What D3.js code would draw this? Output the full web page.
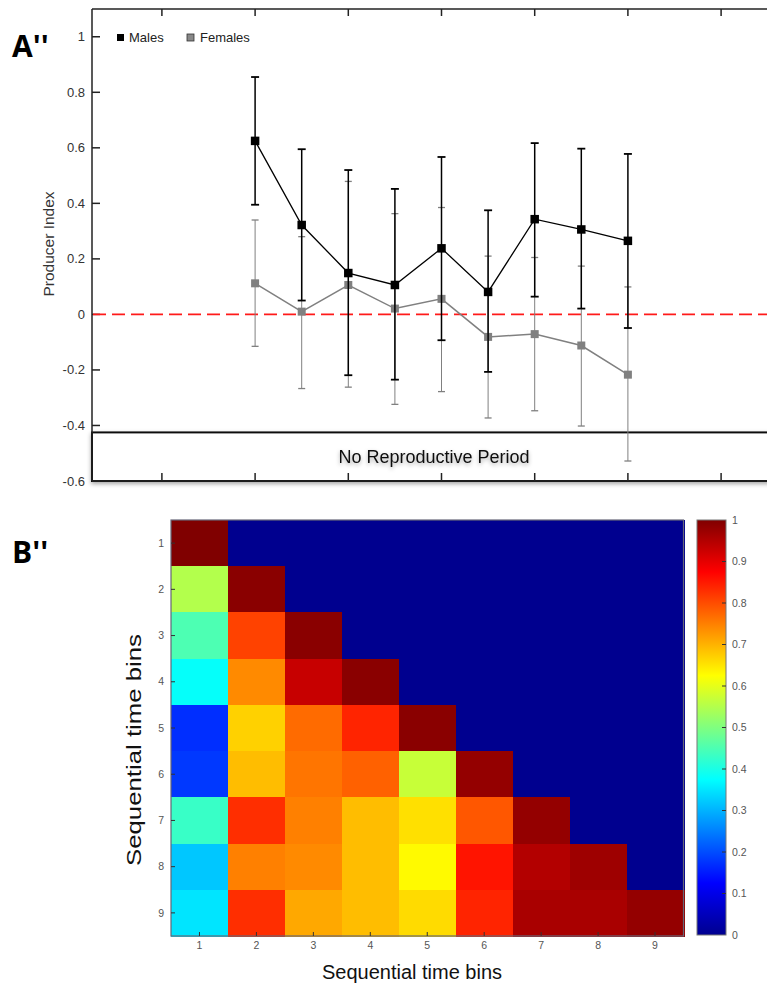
<!DOCTYPE html>
<html>
<head>
<meta charset="utf-8">
<script src="https://cdn.jsdelivr.net/npm/d3@7"></script>
<style>
  html, body { margin: 0; padding: 0; background: #fff; }
  svg { display: block; font-family: "Liberation Sans", Arial, sans-serif; }
</style>
</head>
<body>
<svg id="chart" width="767" height="987"></svg>
<script>
// ---- data ----
const bins = [1, 2, 3, 4, 5, 6, 7, 8, 9];

const malesMean = [0.625, 0.322, 0.149, 0.106, 0.238, 0.081, 0.343, 0.306, 0.265];
const malesHigh = [0.855, 0.595, 0.52, 0.452, 0.567, 0.375, 0.617, 0.597, 0.578];
const malesLow = [0.395, 0.05, -0.219, -0.235, -0.093, -0.207, 0.064, 0.021, -0.049];

const femalesMean = [0.112, 0.01, 0.106, 0.021, 0.056, -0.081, -0.071, -0.112, -0.217];
const femalesHigh = [0.34, 0.28, 0.479, 0.363, 0.385, 0.21, 0.205, 0.174, 0.099];
const femalesLow = [-0.115, -0.267, -0.262, -0.324, -0.278, -0.373, -0.347, -0.402, -0.528];

const yTicksA = [1, 0.8, 0.6, 0.4, 0.2, 0, -0.2, -0.4, -0.6];
const xTicksA = [-1, 1, 3, 5, 7, 9, 11];

// correlation between sequential time bins (row = bin, col = bin), 0 above diagonal
const corr = [
  [1.00, 0, 0, 0, 0, 0, 0, 0, 0],
  [0.55, 0.99, 0, 0, 0, 0, 0, 0, 0],
  [0.45, 0.81, 0.99, 0, 0, 0, 0, 0, 0],
  [0.38, 0.74, 0.93, 0.99, 0, 0, 0, 0, 0],
  [0.17, 0.67, 0.77, 0.84, 0.99, 0, 0, 0, 0],
  [0.18, 0.69, 0.76, 0.78, 0.57, 0.98, 0, 0, 0],
  [0.43, 0.83, 0.75, 0.69, 0.655, 0.79, 0.98, 0, 0],
  [0.32, 0.75, 0.74, 0.69, 0.63, 0.855, 0.95, 0.97, 0],
  [0.35, 0.83, 0.71, 0.69, 0.66, 0.84, 0.96, 0.96, 0.98]
];
const cbTicks = [0, 0.1, 0.2, 0.3, 0.4, 0.5, 0.6, 0.7, 0.8, 0.9, 1];

// jet colour map stops
const jetStops = [0, 0.125, 0.375, 0.625, 0.875, 1];
const jetColors = ["#00008f", "#0000ff", "#00ffff", "#ffff00", "#ff0000", "#800000"];

const svg = d3.select("#chart");

const defs = svg.append("defs");
const shadow = defs.append("filter").attr("id", "shadow")
  .attr("x", "-10%").attr("y", "-30%").attr("width", "120%").attr("height", "180%");
shadow.append("feDropShadow").attr("dx", 0).attr("dy", 2)
  .attr("stdDeviation", 2).attr("flood-color", "#000").attr("flood-opacity", 0.35);

// ================= panel A'' =================
const x = d3.scaleLinear().domain([-2.5, 12.5]).range([92, 791]);
const y = d3.scaleLinear().domain([-0.6, 1.1]).range([481, 9]);

svg.append("text").attr("x", 12).attr("y", 57)
  .attr("font-size", 30).attr("font-weight", "bold")
  .attr("font-family", "'Open Sans', 'Liberation Sans', sans-serif").text("A''");

// no reproductive period box
const boxTop = y(-0.425);
svg.append("rect")
  .attr("x", x(-2.5)).attr("y", boxTop)
  .attr("width", 800 - x(-2.5)).attr("height", y(-0.6) - boxTop)
  .attr("fill", "#fff").attr("stroke", "#111").attr("stroke-width", 2)
  .attr("filter", "url(#shadow)");
svg.append("text")
  .attr("x", 434).attr("y", 463).attr("text-anchor", "middle")
  .attr("font-size", 18).attr("fill", "#111")
  .attr("filter", "url(#shadow)")
  .text("No Reproductive Period");

// frame: left, top, bottom with inward ticks
const frame = svg.append("g").attr("stroke", "#222").attr("stroke-width", 1.5);
frame.append("line").attr("x1", 92).attr("x2", 800).attr("y1", 9).attr("y2", 9);
frame.append("line").attr("x1", 92).attr("x2", 800).attr("y1", 481).attr("y2", 481);
frame.append("line").attr("x1", 92).attr("x2", 92).attr("y1", 9).attr("y2", 481);

frame.selectAll(".tt").data(xTicksA).join("line")
  .attr("x1", (d) => x(d)).attr("x2", (d) => x(d))
  .attr("y1", 9).attr("y2", 16);
frame.selectAll(".bt").data(xTicksA).join("line")
  .attr("x1", (d) => x(d)).attr("x2", (d) => x(d))
  .attr("y1", 481).attr("y2", 473);
frame.selectAll(".lt").data(yTicksA).join("line")
  .attr("x1", 92).attr("x2", 100)
  .attr("y1", (d) => y(d)).attr("y2", (d) => y(d));

svg.append("g").selectAll("text").data(yTicksA).join("text")
  .attr("x", 85).attr("y", (d) => y(d)).attr("dy", "0.35em")
  .attr("text-anchor", "end").attr("font-size", 13).attr("fill", "#333")
  .text((d) => String(d));

svg.append("text")
  .attr("transform", `translate(54,${244}) rotate(-90)`)
  .attr("text-anchor", "middle").attr("font-size", 15.5).attr("fill", "#333")
  .text("Producer Index");

// zero line
svg.append("line")
  .attr("x1", 93).attr("x2", 767).attr("y1", y(0)).attr("y2", y(0))
  .attr("stroke", "#ff1a1a").attr("stroke-width", 1.6).attr("stroke-dasharray", "13,6");

function drawSeries(mean, low, high, color, lineW, barW, cap, size) {
  const g = svg.append("g");
  const rows = bins.map((b, i) => ({ b, m: mean[i], lo: low[i], hi: high[i] }));
  g.selectAll(".eb").data(rows).join("line")
    .attr("x1", (d) => x(d.b)).attr("x2", (d) => x(d.b))
    .attr("y1", (d) => y(d.lo)).attr("y2", (d) => y(d.hi))
    .attr("stroke", color).attr("stroke-width", barW);
  ["lo", "hi"].forEach((k) => {
    g.selectAll(".cap" + k).data(rows).join("line")
      .attr("x1", (d) => x(d.b) - cap).attr("x2", (d) => x(d.b) + cap)
      .attr("y1", (d) => y(d[k])).attr("y2", (d) => y(d[k]))
      .attr("stroke", color).attr("stroke-width", barW + 0.3);
  });
  g.append("path").datum(rows)
    .attr("fill", "none").attr("stroke", color).attr("stroke-width", lineW)
    .attr("d", d3.line().x((d) => x(d.b)).y((d) => y(d.m)));
  g.selectAll("rect").data(rows).join("rect")
    .attr("x", (d) => x(d.b) - size / 2).attr("y", (d) => y(d.m) - size / 2)
    .attr("width", size).attr("height", size).attr("fill", color);
}

drawSeries(femalesMean, femalesLow, femalesHigh, "#808080", 1.5, 1, 3.5, 8);
drawSeries(malesMean, malesLow, malesHigh, "#000", 1.3, 1.5, 4, 8.5);

// legend
const legend = svg.append("g").attr("font-size", 13).attr("fill", "#222");
legend.append("rect").attr("x", 117).attr("y", 34).attr("width", 7).attr("height", 7).attr("fill", "#000");
legend.append("text").attr("x", 129).attr("y", 42).text("Males");
legend.append("rect").attr("x", 187).attr("y", 34).attr("width", 7).attr("height", 7)
  .attr("fill", "#888").attr("stroke", "#333").attr("stroke-width", 0.8);
legend.append("text").attr("x", 200).attr("y", 42).text("Females");

// ================= panel B'' =================
svg.append("text").attr("x", 12).attr("y", 563)
  .attr("font-size", 30).attr("font-weight", "bold")
  .attr("font-family", "'Open Sans', 'Liberation Sans', sans-serif").text("B''");

const hx = d3.scaleBand().domain(bins).range([171, 683.5]);
const hy = d3.scaleBand().domain(bins).range([520, 936]);
const jet = d3.scaleLinear().domain(jetStops).range(jetColors).clamp(true);

const cells = [];
corr.forEach((row, r) => row.forEach((v, c) => cells.push({ r: bins[r], c: bins[c], v })));

svg.append("g").attr("shape-rendering", "crispEdges")
  .selectAll("rect").data(cells).join("rect")
  .attr("x", (d) => hx(d.c)).attr("y", (d) => hy(d.r))
  .attr("width", hx.bandwidth() + 1).attr("height", hy.bandwidth() + 1)
  .attr("fill", (d) => jet(d.v));

svg.append("rect").attr("x", 171).attr("y", 520).attr("width", 512.5).attr("height", 416)
  .attr("fill", "none").attr("stroke", "#667").attr("stroke-width", 1.2);

const hticks = svg.append("g").attr("stroke", "#333").attr("stroke-width", 1);
hticks.selectAll(".yl").data(bins).join("line")
  .attr("x1", 171).attr("x2", 175)
  .attr("y1", (d) => hy(d) + hy.bandwidth() / 2).attr("y2", (d) => hy(d) + hy.bandwidth() / 2);
hticks.selectAll(".xl").data(bins).join("line")
  .attr("y1", 936).attr("y2", 932)
  .attr("x1", (d) => hx(d) + hx.bandwidth() / 2).attr("x2", (d) => hx(d) + hx.bandwidth() / 2);

svg.append("g").selectAll("text").data(bins).join("text")
  .attr("x", 164).attr("y", (d) => hy(d) + hy.bandwidth() / 2).attr("dy", "0.35em")
  .attr("text-anchor", "end").attr("font-size", 10.5).attr("fill", "#555")
  .text((d) => d);
svg.append("g").selectAll("text").data(bins).join("text")
  .attr("x", (d) => hx(d) + hx.bandwidth() / 2).attr("y", 949)
  .attr("text-anchor", "middle").attr("font-size", 10.5).attr("fill", "#555")
  .text((d) => d);

svg.append("text").attr("x", 412).attr("y", 979).attr("text-anchor", "middle")
  .attr("font-size", 20).attr("fill", "#111").text("Sequential time bins");
svg.append("text")
  .attr("transform", "translate(141,750) rotate(-90)")
  .attr("text-anchor", "middle").attr("font-size", 21).attr("fill", "#111")
  .attr("textLength", 232).attr("lengthAdjust", "spacingAndGlyphs")
  .text("Sequential time bins");

// colour bar
const cb = d3.scaleLinear().domain([0, 1]).range([935, 520]);
const grad = defs.append("linearGradient").attr("id", "jetgrad")
  .attr("x1", 0).attr("y1", 1).attr("x2", 0).attr("y2", 0);
grad.selectAll("stop").data(jetStops).join("stop")
  .attr("offset", (d) => d).attr("stop-color", (d) => jet(d));
svg.append("rect").attr("x", 697).attr("y", 520).attr("width", 29).attr("height", 415)
  .attr("fill", "url(#jetgrad)").attr("stroke", "#777").attr("stroke-width", 1);
svg.append("g").selectAll("line").data(cbTicks.slice(1, -1)).join("line")
  .attr("x1", 722).attr("x2", 726)
  .attr("y1", (d) => cb(d)).attr("y2", (d) => cb(d))
  .attr("stroke", "#333").attr("stroke-width", 1);
svg.append("g").selectAll("text").data(cbTicks).join("text")
  .attr("x", 732).attr("y", (d) => cb(d)).attr("dy", "0.35em")
  .attr("font-size", 10.5).attr("fill", "#555")
  .text((d) => String(d));
</script>
</body>
</html>
